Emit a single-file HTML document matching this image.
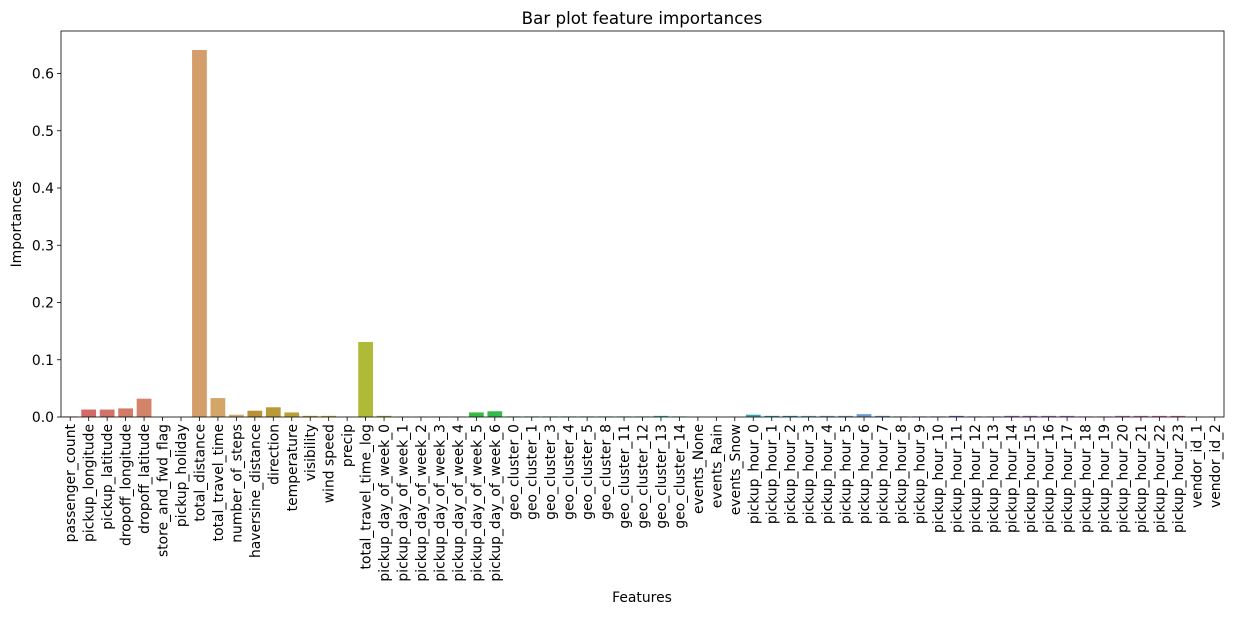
<!DOCTYPE html>
<html><head><meta charset="utf-8"><style>
body{margin:0;background:#fff;font-family:"Liberation Sans","DejaVu Sans",sans-serif;}
svg text{font-family:"DejaVu Sans","Liberation Sans",sans-serif;fill:#000;}
</style></head><body>
<svg id="chart" width="1233" height="614" xmlns="http://www.w3.org/2000/svg">
<text x="642" y="24" font-size="16.7" text-anchor="middle">Bar plot feature importances</text>
<text transform="translate(21,224) rotate(-90)" font-size="13.9" text-anchor="middle">Importances</text>
<text x="642" y="602" font-size="13.9" text-anchor="middle">Features</text>
<g id="bars"></g><g id="yticks"></g><g id="xticks"></g>
<rect x="61" y="31" width="1163" height="386" fill="none" stroke="#000" stroke-width="0.8"/>
</svg>
<script>
const categories=["passenger_count","pickup_longitude","pickup_latitude","dropoff_longitude","dropoff_latitude","store_and_fwd_flag","pickup_holiday","total_distance","total_travel_time","number_of_steps","haversine_distance","direction","temperature","visibility","wind speed","precip","total_travel_time_log","pickup_day_of_week_0","pickup_day_of_week_1","pickup_day_of_week_2","pickup_day_of_week_3","pickup_day_of_week_4","pickup_day_of_week_5","pickup_day_of_week_6","geo_cluster_0","geo_cluster_1","geo_cluster_3","geo_cluster_4","geo_cluster_5","geo_cluster_8","geo_cluster_11","geo_cluster_12","geo_cluster_13","geo_cluster_14","events_None","events_Rain","events_Snow","pickup_hour_0","pickup_hour_1","pickup_hour_2","pickup_hour_3","pickup_hour_4","pickup_hour_5","pickup_hour_6","pickup_hour_7","pickup_hour_8","pickup_hour_9","pickup_hour_10","pickup_hour_11","pickup_hour_12","pickup_hour_13","pickup_hour_14","pickup_hour_15","pickup_hour_16","pickup_hour_17","pickup_hour_18","pickup_hour_19","pickup_hour_20","pickup_hour_21","pickup_hour_22","pickup_hour_23","vendor_id_1","vendor_id_2"];
const importances=[0.001,0.013,0.013,0.015,0.032,0,0,0.641,0.033,0.004,0.011,0.017,0.008,0.002,0.002,0.0005,0.131,0.002,0.0005,0.0005,0.0005,0.0005,0.008,0.010,0.001,0.001,0.001,0.001,0.001,0.001,0.001,0.001,0.002,0.001,0.0003,0.0003,0.0003,0.004,0.002,0.002,0.002,0.002,0.002,0.005,0.002,0.001,0.001,0.001,0.002,0.001,0.001,0.002,0.002,0.002,0.002,0.001,0.001,0.002,0.002,0.002,0.002,0.0005,0.0005];
const yTicks=[0,0.1,0.2,0.3,0.4,0.5,0.6];
const yTickLabels=["0.0","0.1","0.2","0.3","0.4","0.5","0.6"];
const NS="http://www.w3.org/2000/svg";
const X0=61,W=1163,Y0=417,PX=572.5;
const band=W/categories.length;
const xs=i=>X0+band*i;
const ys=v=>Y0-v*PX;
function mk(t,a,p){const e=document.createElementNS(NS,t);for(const k in a)e.setAttribute(k,a[k]);p.appendChild(e);return e;}
// palette anchors (index -> hue), approximating seaborn husl
const hueIdx=[0,4,7,16,22,30,37,43,50,56,62];
const hueVal=[355,15,30,65,125,165,190,210,265,300,340];
function hueAt(i){for(let k=1;k<hueIdx.length;k++){if(i<=hueIdx[k]){const t=(i-hueIdx[k-1])/(hueIdx[k]-hueIdx[k-1]);return hueVal[k-1]+t*(((hueVal[k]-hueVal[k-1]+540)%360)-180);}}return 340;}
const bars=document.getElementById('bars'),yt=document.getElementById('yticks'),xt=document.getElementById('xticks');
categories.forEach((c,i)=>{
  const h=(hueAt(i)+360)%360;
  const light=(h>40&&h<200)?47:62;
  const r=mk('rect',{x:xs(i)+band*0.1,y:ys(importances[i]),width:band*0.8,height:Y0-ys(importances[i]),fill:`hsl(${h},55%,${light}%)`},bars);
  
  
  const cx=xs(i)+band/2;
  mk('line',{x1:cx,x2:cx,y1:Y0,y2:Y0+4,stroke:'#000','stroke-width':0.8},xt);
  const t=mk('text',{transform:`translate(${cx+5},${Y0+7}) rotate(-90)`,'font-size':13.9,'text-anchor':'end'},xt);
  t.textContent=c;
  
  
});
yTicks.forEach((v,i)=>{
  mk('line',{x1:X0-4,x2:X0,y1:ys(v),y2:ys(v),stroke:'#000','stroke-width':0.8},yt);
  const t=mk('text',{x:X0-7,y:ys(v)+5,'font-size':13.9,'text-anchor':'end'},yt);
  t.textContent=yTickLabels[i];
  
  
});
</script>
</body></html>
